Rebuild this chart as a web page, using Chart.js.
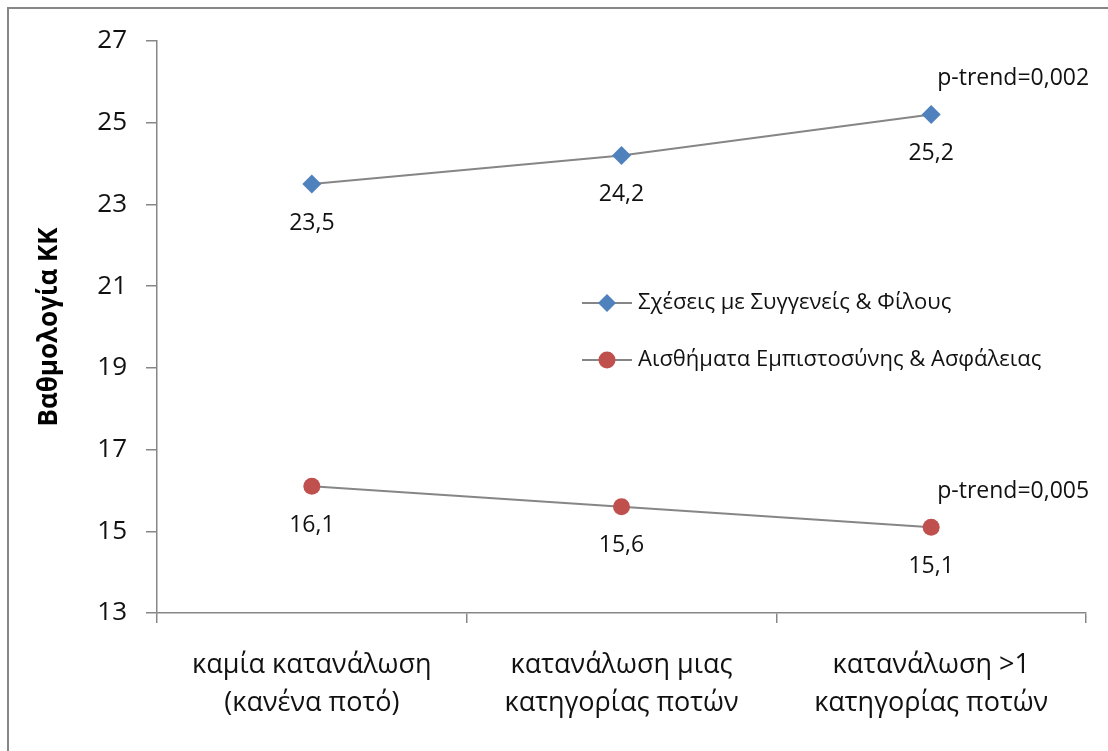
<!DOCTYPE html>
<html>
<head>
<meta charset="utf-8">
<script src="https://cdn.jsdelivr.net/npm/chart.js@4"></script>
<style>
  html, body { margin: 0; padding: 0; background: #fff; }
  #wrap { width: 1108px; height: 751px; position: relative; }
</style>
</head>
<body>
<div id="wrap"><canvas id="grafica"></canvas></div>
<script>
// Datos
const categorias = [
    ['καμία κατανάλωση', '(κανένα ποτό)'],
    ['κατανάλωση μιας', 'κατηγορίας ποτών'],
    ['κατανάλωση >1', 'κατηγορίας ποτών']
];
const serieNombres = ['Σχέσεις με Συγγενείς & Φίλους', 'Αισθήματα Εμπιστοσύνης & Ασφάλειας'];
const valoresFamilia = [23.5, 24.2, 25.2];
const valoresConfianza = [16.1, 15.6, 15.1];
const pTrend = ['p-trend=0,002', 'p-trend=0,005'];
const ejeY = { min: 13, max: 27, paso: 2, titulo: 'Βαθμολογία ΚΚ' };

const FUENTE = '"Open Sans", "Noto Sans", sans-serif';
const GRIS = '#878787';
const TEXTO = '#111';

// Etiquetas, p-trend, leyenda y marco
const pluginExtras = {
    id: 'extras',
    afterDraw(chart) {
        const ctx = chart.ctx;
        ctx.save();

        // marco exterior (solo arriba e izquierda visibles)
        ctx.strokeStyle = GRIS;
        ctx.lineWidth = 2;
        ctx.beginPath();
        ctx.moveTo(8, 760);
        ctx.lineTo(8, 8);
        ctx.lineTo(1120, 8);
        ctx.stroke();

        // título eje Y
        ctx.fillStyle = '#000';
        ctx.font = 'bold 26px ' + FUENTE;
        ctx.translate(50, 327);
        ctx.rotate(-Math.PI / 2);
        ctx.textAlign = 'center';
        ctx.textBaseline = 'middle';
        ctx.fillText(ejeY.titulo, 0, 0);
        ctx.setTransform(1, 0, 0, 1, 0, 0);

        // valores bajo los puntos
        ctx.font = '23px ' + FUENTE;
        ctx.fillStyle = TEXTO;
        chart.data.datasets.forEach((ds, i) => {
            const meta = chart.getDatasetMeta(i);
            meta.data.forEach((pt, j) => {
                const txt = ds.data[j].toFixed(1).replace('.', ',');
                ctx.fillText(txt, pt.x, pt.y + 39);
            });
            // p-trend encima del último punto
            const ult = meta.data[meta.data.length - 1];
            ctx.fillText(pTrend[i], ult.x + 82, ult.y - 36);
        });

        // leyenda dentro del área
        const filas = [303, 360];
        ctx.textAlign = 'left';
        chart.data.datasets.forEach((ds, i) => {
            const y = filas[i];
            ctx.strokeStyle = ds.borderColor;
            ctx.lineWidth = 2;
            ctx.beginPath();
            ctx.moveTo(582, y);
            ctx.lineTo(632, y);
            ctx.stroke();
            ctx.fillStyle = ds.pointBackgroundColor;
            ctx.beginPath();
            if (ds.pointStyle === 'rectRot') {
                ctx.moveTo(607, y - 9);
                ctx.lineTo(616, y);
                ctx.lineTo(607, y + 9);
                ctx.lineTo(598, y);
                ctx.closePath();
            } else {
                ctx.arc(607, y, 8.5, 0, Math.PI * 2);
            }
            ctx.fill();
            ctx.fillStyle = TEXTO;
            ctx.font = '22px ' + FUENTE;
            ctx.fillText(serieNombres[i], 638, y);
        });

        ctx.restore();
    }
};

new Chart(document.getElementById('grafica').getContext('2d'), {
    type: 'line',
    data: {
        labels: categorias,
        datasets: [{
            label: serieNombres[0],
            data: valoresFamilia,
            borderColor: '#868686',
            borderWidth: 2,
            pointStyle: 'rectRot',
            pointRadius: 9.5,
            pointBackgroundColor: '#4F81BD',
            pointBorderColor: '#4F81BD',
            pointBorderWidth: 0
        }, {
            label: serieNombres[1],
            data: valoresConfianza,
            borderColor: '#868686',
            borderWidth: 2,
            pointStyle: 'circle',
            pointRadius: 8.5,
            pointBackgroundColor: '#C0504D',
            pointBorderColor: '#C0504D',
            pointBorderWidth: 0
        }]
    },
    options: {
        responsive: true,
        maintainAspectRatio: false,
        animation: false,
        layout: { padding: { top: 41, right: 22, left: 0, bottom: 0 } },
        scales: {
            y: {
                min: ejeY.min,
                max: ejeY.max,
                afterFit: function (scale) { scale.width = 157; },
                ticks: {
                    stepSize: ejeY.paso,
                    color: TEXTO,
                    padding: 19,
                    font: { family: FUENTE, size: 26 }
                },
                grid: { drawOnChartArea: false, tickLength: 11, color: GRIS, lineWidth: 1.5 },
                border: { color: GRIS, width: 1.5 }
            },
            x: {
                offset: true,
                afterFit: function (scale) { scale.height = 138; },
                ticks: {
                    color: TEXTO,
                    padding: 23,
                    maxRotation: 0,
                    font: { family: FUENTE, size: 27, lineHeight: 38 / 27 }
                },
                grid: { offset: true, drawOnChartArea: false, tickLength: 10, color: GRIS, lineWidth: 1.5 },
                border: { color: GRIS, width: 1.5 }
            }
        },
        plugins: {
            legend: { display: false },
            tooltip: { enabled: false }
        }
    },
    plugins: [pluginExtras]
});
</script>
</body>
</html>
